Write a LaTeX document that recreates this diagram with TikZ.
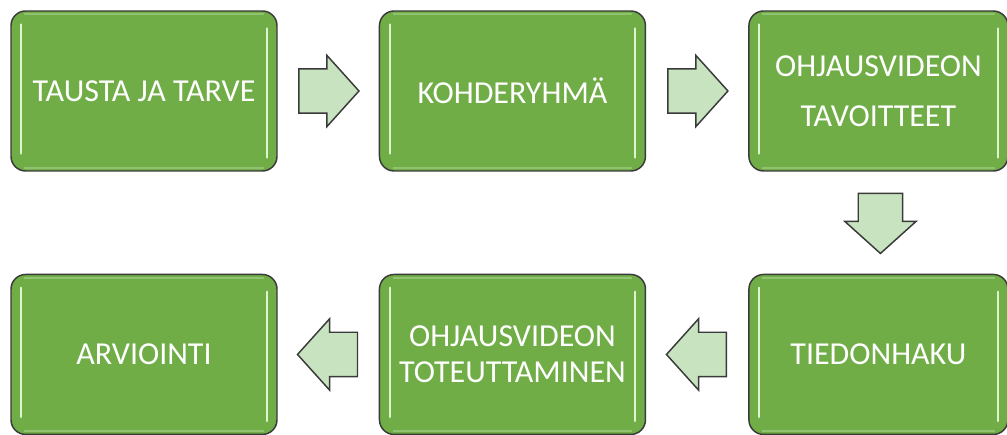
\documentclass[tikz,border=0pt]{standalone}
\usepackage{fontspec}
\setmainfont{Carlito}
\usetikzlibrary{positioning,shapes.arrows,calc}
\definecolor{boxgreen}{HTML}{70AD47}
\definecolor{boxline}{HTML}{3A3A3A}
\definecolor{arrowgreen}{HTML}{C8E3BF}
\definecolor{glintcol}{HTML}{DDF5CC}
\definecolor{bandcol}{HTML}{8FC36F}
\tikzset{stage/.style={draw=boxline,line width=1.1pt,fill=boxgreen,rounded corners=11pt,minimum width=199.5pt,minimum height=120pt,text=white,align=center,inner sep=0pt,font=\fontsize{24}{37.5}\selectfont},
flow/.style={single arrow,draw=boxline,line width=1.1pt,fill=arrowgreen,minimum height=45pt,inner xsep=0pt,inner ysep=16.1pt,single arrow head extend=10.1pt,single arrow tip angle=96,anchor=tail},
hilite/.style={glintcol,line width=1.5pt,line cap=round},
band/.style={bandcol,line width=1.8pt}}

\begin{document}
\begin{tikzpicture}[x=0.75pt,y=0.75pt]
\useasboundingbox (0,0) rectangle (1007,435);
\node[stage] (b1) at (144,344) {TAUSTA JA TARVE};
\node[stage,right=75.75pt of b1] (b2) {KOHDERYHMÄ};
\node[stage,minimum width=194.25pt,right=76.5pt of b2] (b3) {OHJAUSVIDEON\\TAVOITTEET};
\node[stage,minimum width=194.25pt,below=76.5pt of b3] (b4) {TIEDONHAKU};
\node[stage,font=\fontsize{24}{27}\selectfont,left=76.5pt of b4] (b5) {OHJAUSVIDEON\\TOTEUTTAMINEN};
\node[stage,left=75.75pt of b5] (b6) {ARVIOINTI};

\foreach \n in {b1,b2,b3,b4,b5,b6}{
\draw[band] ($(\n.north west)+(14,-4)$)--($(\n.north east)+(-14,-4)$) ($(\n.south west)+(14,4)$)--($(\n.south east)+(-14,4)$);
\draw[hilite] ($(\n.north west)+(11,-14)$)--($(\n.south west)+(11,18)$) ($(\n.north east)+(-11,-18)$)--($(\n.south east)+(-11,14)$);
}

\node[flow] (a1) at ($(b1.east)!0.5!(b2.west)+(-30,0)$) {};
\node[flow] (a2) at ($(b2.east)!0.5!(b3.west)+(-30,0)$) {};
\node[flow,rotate=-90] (a3) at ($(b3.south)!0.5!(b4.north)+(2,30)$) {};
\node[flow,rotate=180] (a4) at ($(b4.west)!0.5!(b5.east)+(30,0)$) {};
\node[flow,rotate=180] (a5) at ($(b5.west)!0.5!(b6.east)+(30,0)$) {};
\end{tikzpicture}
\end{document}
